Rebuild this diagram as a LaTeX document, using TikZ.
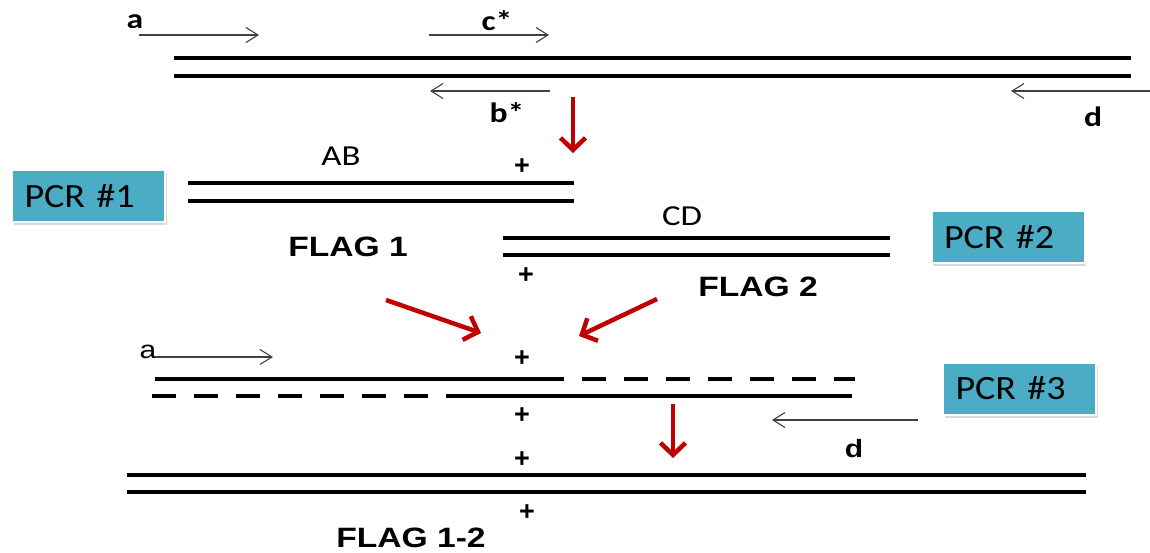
\documentclass[tikz,border=0pt]{standalone}
\usepackage{fontspec}
\setmainfont{Liberation Sans}
\newfontfamily\flagf[FakeStretch=1.2]{Liberation Sans}
\newfontfamily\pcrf[FakeStretch=1.12]{Carlito}
\newfontfamily\labf[FakeStretch=1.2]{Carlito}
\usetikzlibrary{arrows.meta,shadows}
\definecolor{pcrblue}{RGB}{75,172,198}
\definecolor{redarr}{RGB}{192,0,0}
\tikzset{
  strand/.style={line width=4.6pt},
  dstrand/.style={line width=4.6pt, dash pattern=on 24pt off 18pt},
  primer/.style={line width=1.1pt, draw=black!75, -{Straight Barb[length=12pt,width=15pt]}},
  flow/.style={line width=4.5pt, draw=redarr, -{Straight Barb[length=12pt,width=25pt]}},
  pcrbox/.style={fill=pcrblue, draw=white, line width=2pt, minimum width=153pt, minimum height=52pt,
     inner sep=0pt, text width=128pt, align=left, font=\pcrf\fontsize{34}{36}\selectfont,
     drop shadow={opacity=0.3, shadow xshift=1.5pt, shadow yshift=-3pt}},
  flag/.style={inner sep=0pt, font=\flagf\bfseries\fontsize{28}{30}\selectfont},
  lab/.style={inner sep=0pt, font=\labf\fontsize{29}{31}\selectfont},
  blab/.style={inner sep=0pt, font=\labf\bfseries\fontsize{28}{30}\selectfont},
  plus/.style={inner sep=0pt, font=\bfseries\fontsize{27}{29}\selectfont},
}
\begin{document}
\begin{tikzpicture}[x=1pt,y=-1pt]
\useasboundingbox (0,0) rectangle (1150,552);
% ---- top template ----
\coordinate (t1l) at (174,58); \coordinate (t1r) at (1131,58);
\coordinate (t2l) at (174,76); \coordinate (t2r) at (1131,76);
\draw[strand] (t1l) -- (t1r);
\draw[strand] (t2l) -- (t2r);
\coordinate (pa1) at (139,35); \coordinate (pa2) at (259,35);
\coordinate (pc1) at (429,35); \coordinate (pc2) at (549,35);
\coordinate (pb1) at (550,91); \coordinate (pb2) at (430,91);
\coordinate (pd1) at (1150,91); \coordinate (pd2) at (1011,91);
\draw[primer] (pa1) -- (pa2);
\draw[primer] (pc1) -- (pc2);
\draw[primer] (pb1) -- (pb2);
\draw[primer] (pd1) -- (pd2);
\node[blab] (la) at (135,22) {a};
\node[blab] (lc) at (497,21) {c*};
\node[blab] (lb) at (507,113) {b*};
\node[blab] (ld) at (1093,117) {d};
% ---- red arrow 1 ----
\coordinate (r1a) at (573,97); \coordinate (r1b) at (573,153);
\draw[flow] (r1a) -- (r1b);
% ---- PCR 1 ----
\node[pcrbox] (pcr1) at (88.5,196) {PCR \#1};
\coordinate (ab1l) at (188,183); \coordinate (ab1r) at (574,183);
\coordinate (ab2l) at (188,201); \coordinate (ab2r) at (574,201);
\draw[strand] (ab1l) -- (ab1r);
\draw[strand] (ab2l) -- (ab2r);
\node[lab] (lab) at (341,156) {AB};
\node[plus] (p1) at (522,167) {+};
\node[flag] (f1) at (348,247) {FLAG 1};
% ---- PCR 2 ----
\node[pcrbox] (pcr2) at (1008,237) {PCR \#2};
\coordinate (cd1l) at (503,238); \coordinate (cd1r) at (890,238);
\coordinate (cd2l) at (503,255); \coordinate (cd2r) at (890,255);
\draw[strand] (cd1l) -- (cd1r);
\draw[strand] (cd2l) -- (cd2r);
\node[lab] (lcd) at (682,216) {CD};
\node[plus] (p2) at (526,276) {+};
\node[flag] (f2) at (758,287) {FLAG 2};
% ---- red arrows 2,3 ----
\coordinate (r2a) at (386,300); \coordinate (r2b) at (481,333);
\coordinate (r3a) at (657,299); \coordinate (r3b) at (579,336);
\draw[flow] (r2a) -- (r2b);
\draw[flow] (r3a) -- (r3b);
% ---- PCR 3 ----
\node[pcrbox] (pcr3) at (1019.5,388.5) {PCR \#3};
\node[plus] (p3) at (522,359) {+};
\node[blab, font=\flagf\fontsize{25}{27}\selectfont] (la3) at (148,352) {a};
\coordinate (pa31) at (155,357); \coordinate (pa32) at (273,357);
\draw[primer] (pa31) -- (pa32);
\coordinate (s1l) at (155,379); \coordinate (s1m) at (540,379); \coordinate (s1r) at (855,379);
\coordinate (s2l) at (152,396); \coordinate (s2m) at (447,396); \coordinate (s2r) at (852,396);
\draw[strand] (s1l) -- (s1m);
\draw[dstrand] (s1m) -- (s1r);
\draw[dstrand] (s2l) -- (s2m);
\draw[strand] (s2m) -- (s2r);
\node[plus] (p4) at (522,416) {+};
\coordinate (pd31) at (918,420); \coordinate (pd32) at (772,420);
\draw[primer] (pd31) -- (pd32);
\node[inner sep=0pt, font=\flagf\bfseries\fontsize{25}{27}\selectfont] (ld3) at (854,449) {d};
\coordinate (r4a) at (673,404); \coordinate (r4b) at (673,458);
\draw[flow] (r4a) -- (r4b);
% ---- final product ----
\node[plus] (p5) at (522,460) {+};
\coordinate (b1l) at (127,475); \coordinate (b1r) at (1086,475);
\coordinate (b2l) at (127,492); \coordinate (b2r) at (1086,492);
\draw[strand] (b1l) -- (b1r);
\draw[strand] (b2l) -- (b2r);
\node[plus] (p6) at (527,513) {+};
\node[flag] (f3) at (411,538) {FLAG 1-2};
\end{tikzpicture}
\end{document}
